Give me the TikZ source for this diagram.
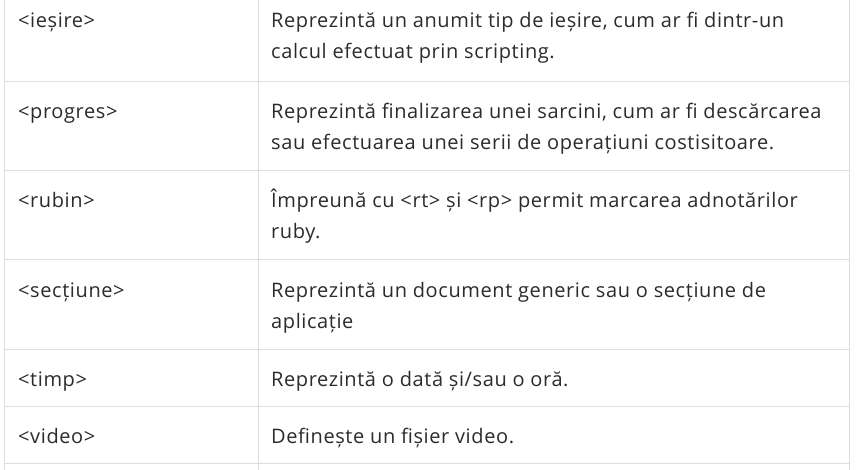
\documentclass[tikz,border=0pt]{standalone}
\usepackage{fontspec}
\setmainfont[LetterSpace=3]{Open Sans}
\definecolor{rulegray}{HTML}{DDDDDD}
\definecolor{textgray}{HTML}{2B2B2B}
\tikzset{cell/.style={anchor=base west, inner sep=0pt, align=left, text=textgray,
  font=\fontsize{20}{31}\selectfont}}
\begin{document}
\begin{tikzpicture}[x=1pt,y=-1pt]
    \useasboundingbox (0,0) rectangle (856,470);
    \foreach \y in {81,170,259,349,406,463}
    \draw[rulegray] (4,\y)--(849,\y);
    \foreach \x in {4,258,849}
    \draw[rulegray] (\x,0)--(\x,470);
    % two-line cells are placed at their last baseline
    \node[cell] (iesire) at (18,28) {<ieșire>};
    \node[cell] (iesiredesc) at (271,59) {Reprezintă un anumit tip de ieșire, cum ar fi dintr-un\\calcul efectuat prin scripting.};
    \node[cell] (progres) at (18,119) {<progres>};
    \node[cell] (progresdesc) at (271,150) {Reprezintă finalizarea unei sarcini, cum ar fi descărcarea\\sau efectuarea unei serii de operațiuni costisitoare.};
    \node[cell] (rubin) at (18,208) {<rubin>};
    \node[cell] (rubindesc) at (271,239) {Împreună cu <rt> și <rp> permit marcarea adnotărilor\\ruby.};
    \node[cell] (sectiune) at (18,297) {<secțiune>};
    \node[cell] (sectiunedesc) at (271,328) {Reprezintă un document generic sau o secțiune de\\aplicație};
    \node[cell] (timp) at (18,386) {<timp>};
    \node[cell] (timpdesc) at (271,386) {Reprezintă o dată și/sau o oră.};
    \node[cell] (video) at (18,443) {<video>};
    \node[cell] (videodesc) at (271,443) {Definește un fișier video.};
  \end{tikzpicture}
\end{document}
